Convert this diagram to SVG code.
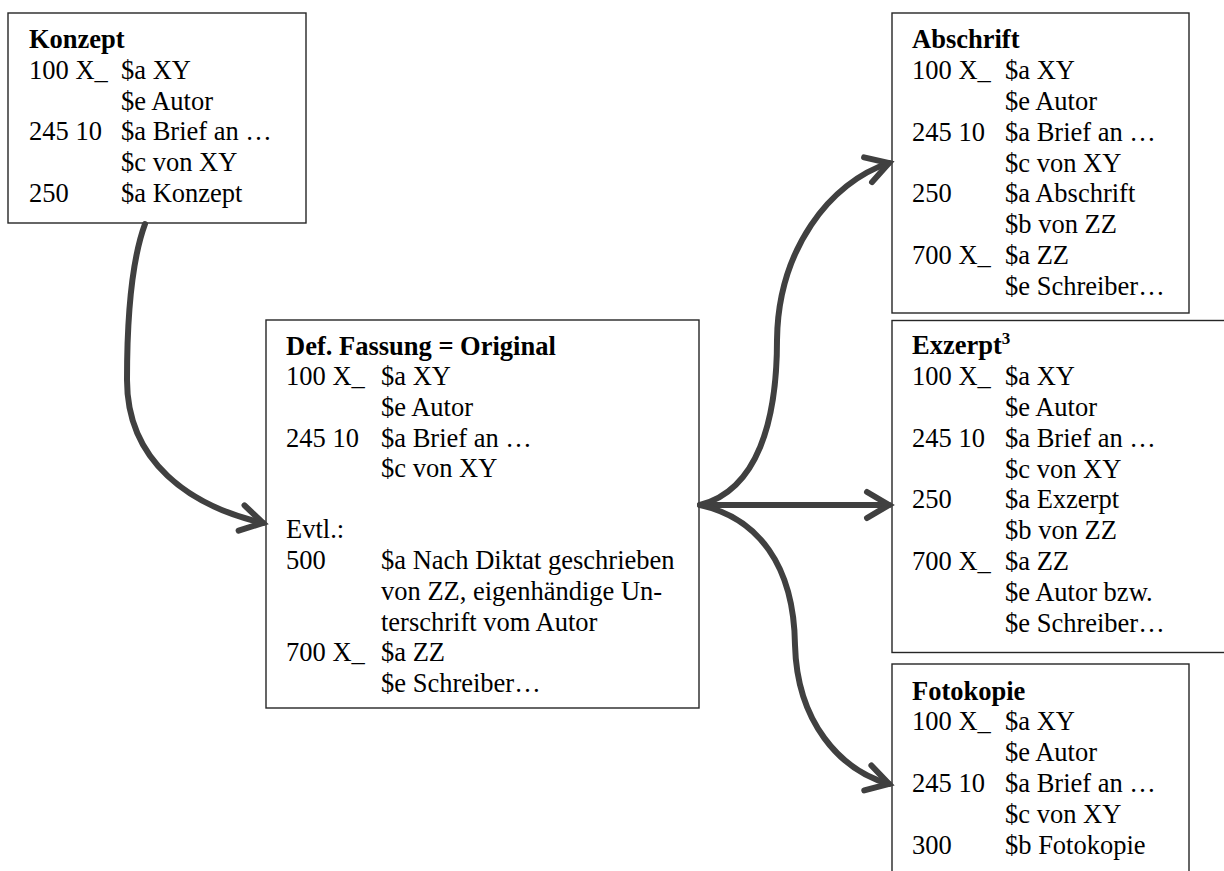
<svg xmlns="http://www.w3.org/2000/svg" width="1224" height="871" viewBox="0 0 1224 871" font-family="'Liberation Serif', 'DejaVu Serif', serif">
<style>
.box{fill:#fff;stroke:#262626;stroke-width:1.4}
text{font-family:'Liberation Serif','DejaVu Serif',serif;font-size:26.5px;fill:#000}
.t{font-weight:bold}
.c{fill:none;stroke:#404040;stroke-width:6;stroke-linecap:round;stroke-linejoin:round}
</style>
<defs>
<marker id="ah" markerUnits="userSpaceOnUse" viewBox="-30 -20 40 40" markerWidth="40" markerHeight="40" refX="0" refY="0" orient="auto" overflow="visible">
<path d="M-22,-13 L0,0 L-22,13" fill="none" stroke="#404040" stroke-width="6" stroke-linecap="round" stroke-linejoin="miter"/>
</marker>
</defs>
<rect width="1224" height="871" fill="#fff"/>

<g id="konzept">
<rect class="box" x="8" y="13" width="298" height="210"/>
<text class="t" x="29" y="48">Konzept</text>
<text x="29" y="79">100 X_<tspan x="121">$a XY</tspan></text>
<text x="121" y="110">$e Autor</text>
<text x="29" y="140">245 10<tspan x="121">$a Brief an …</tspan></text>
<text x="121" y="171">$c von XY</text>
<text x="29" y="202">250<tspan x="121">$a Konzept</tspan></text>
</g>

<g id="original">
<rect class="box" x="266" y="320" width="433" height="388"/>
<text class="t" x="286" y="355">Def. Fassung = Original</text>
<text x="286" y="385">100 X_<tspan x="381">$a XY</tspan></text>
<text x="381" y="416">$e Autor</text>
<text x="286" y="447">245 10<tspan x="381">$a Brief an …</tspan></text>
<text x="381" y="477">$c von XY</text>
<text x="286" y="538">Evtl.:</text>
<text x="286" y="569">500<tspan x="381">$a Nach Diktat geschrieben</tspan></text>
<text x="381" y="600">von ZZ, eigenhändige Un-</text>
<text x="381" y="631">terschrift vom Autor</text>
<text x="286" y="661">700 X_<tspan x="381">$a ZZ</tspan></text>
<text x="381" y="692">$e Schreiber…</text>
</g>

<g id="abschrift">
<rect class="box" x="892" y="13" width="297" height="300"/>
<text class="t" x="912" y="48">Abschrift</text>
<text x="912" y="79">100 X_<tspan x="1005">$a XY</tspan></text>
<text x="1005" y="110">$e Autor</text>
<text x="912" y="141">245 10<tspan x="1005">$a Brief an …</tspan></text>
<text x="1005" y="172">$c von XY</text>
<text x="912" y="202">250<tspan x="1005">$a Abschrift</tspan></text>
<text x="1005" y="233">$b von ZZ</text>
<text x="912" y="264">700 X_<tspan x="1005">$a ZZ</tspan></text>
<text x="1005" y="295">$e Schreiber…</text>
</g>

<g id="exzerpt">
<rect class="box" x="892" y="320.5" width="340" height="332"/>
<text class="t" x="912" y="354">Exzerpt<tspan font-size="17" dy="-10">3</tspan></text>
<text x="912" y="385">100 X_<tspan x="1005">$a XY</tspan></text>
<text x="1005" y="416">$e Autor</text>
<text x="912" y="447">245 10<tspan x="1005">$a Brief an …</tspan></text>
<text x="1005" y="478">$c von XY</text>
<text x="912" y="508">250<tspan x="1005">$a Exzerpt</tspan></text>
<text x="1005" y="539">$b von ZZ</text>
<text x="912" y="570">700 X_<tspan x="1005">$a ZZ</tspan></text>
<text x="1005" y="601">$e Autor bzw.</text>
<text x="1005" y="632">$e Schreiber…</text>
</g>

<g id="fotokopie">
<rect class="box" x="892" y="664" width="297" height="230"/>
<text class="t" x="912" y="700">Fotokopie</text>
<text x="912" y="730">100 X_<tspan x="1005">$a XY</tspan></text>
<text x="1005" y="761">$e Autor</text>
<text x="912" y="792">245 10<tspan x="1005">$a Brief an …</tspan></text>
<text x="1005" y="823">$c von XY</text>
<text x="912" y="854">300<tspan x="1005">$b Fotokopie</tspan></text>
</g>

<g id="connectors">
<path class="c" marker-end="url(#ah)" d="M145,224 C131,262 127,320 127,380 C127,462 190,506 263,523"/>
<path class="c" marker-end="url(#ah)" d="M700,505 C758,490 777,420 777,340 C778,250 830,182 889,163"/>
<path class="c" marker-end="url(#ah)" d="M700,505 L889,505"/>
<path class="c" marker-end="url(#ah)" d="M700,505 C758,518 794,565 795,645 C797,722 840,770 889,784"/>
</g>
</svg>
